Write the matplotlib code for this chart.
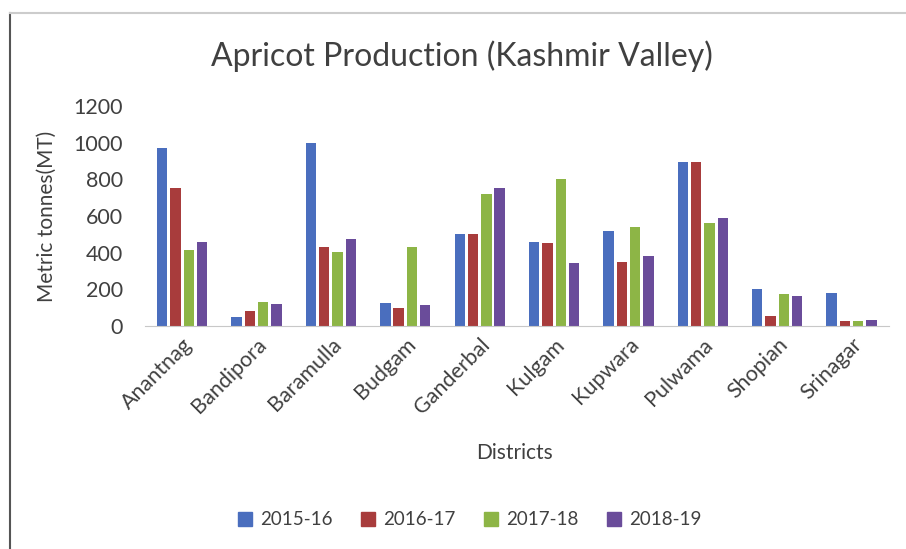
import numpy as np
import matplotlib.pyplot as plt
from matplotlib.lines import Line2D

plt.rcParams['font.family'] = ['Lato', 'DejaVu Sans']

districts = ['Anantnag', 'Bandipora', 'Baramulla', 'Budgam', 'Ganderbal',
             'Kulgam', 'Kupwara', 'Pulwama', 'Shopian', 'Srinagar']
years = ['2015-16', '2016-17', '2017-18', '2018-19']

p_2015 = [970, 47, 1000, 127, 502, 460, 520, 892, 200, 178]
p_2016 = [752, 82, 430, 100, 502, 455, 351, 897, 55, 29]
p_2017 = [415, 133, 402, 430, 719, 800, 542, 561, 175, 29]
p_2018 = [460, 120, 475, 113, 752, 342, 384, 588, 166, 36]

colors = ['#4A6EBE', '#A83C3C', '#8DB546', '#6A4C9A']

fig = plt.figure(figsize=(9.06, 5.49), dpi=100)
ax = fig.add_axes([0.160, 0.406, 0.821, 0.401])

x = np.arange(len(districts))
step = 0.179
w = 0.14
for i, (vals, lab) in enumerate(zip([p_2015, p_2016, p_2017, p_2018], years)):
    ax.bar(x + (i - 1.5) * step, vals, width=w, color=colors[i], label=lab)

ax.set_xlim(-0.5, len(districts) - 0.5)
ax.set_ylim(0, 1200)
ax.set_yticks(range(0, 1201, 200))
ax.tick_params(axis='y', length=0, pad=16, labelsize=15.5, colors='#404040')
ax.tick_params(axis='x', length=0, pad=6, labelsize=15.5, colors='#404040')
ax.set_xticks(x)
ax.set_xticklabels(districts, rotation=45, ha='right', rotation_mode='anchor')
for s in ['top', 'right', 'left']:
    ax.spines[s].set_visible(False)
ax.spines['bottom'].set_color('#c8c8c8')

ax.set_ylabel('Metric tonnes(MT)', fontsize=15, color='#404040', labelpad=12)
fig.text(0.568, 0.175, 'Districts', fontsize=15, color='#404040', ha='center', va='center')
fig.text(0.51, 0.897, 'Apricot Production (Kashmir Valley)', fontsize=23,
         color='#404040', ha='center', va='center')

handles = [Line2D([], [], marker='s', ls='', markersize=9.5, color=c) for c in colors]
fig.legend(handles, years, loc='center', bbox_to_anchor=(0.517, 0.053), ncol=4,
           frameon=False, fontsize=13.5, handlelength=1.0, handletextpad=0.3,
           columnspacing=1.4, labelcolor='#404040')

# frame lines
fig.add_artist(Line2D([0.011, 0.011], [0, 0.976], color='#555555', lw=1.5))
fig.add_artist(Line2D([0.011, 1.0], [0.976, 0.976], color='#cccccc', lw=1.5))

fig.savefig('out.png', dpi=100)
